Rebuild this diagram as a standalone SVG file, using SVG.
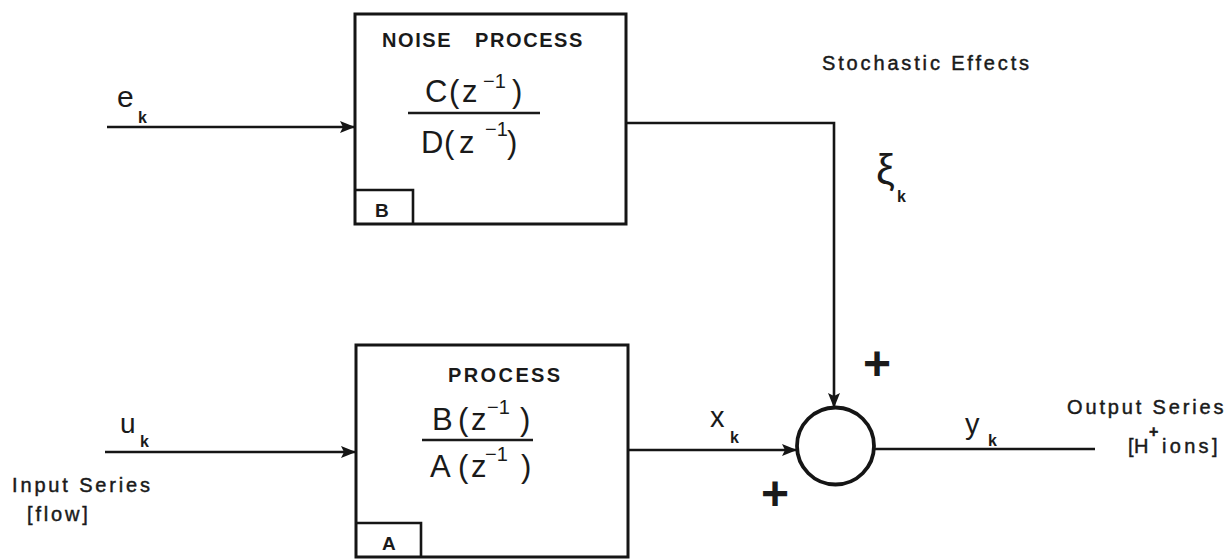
<svg xmlns="http://www.w3.org/2000/svg" width="1229" height="559" viewBox="0 0 1229 559">
<style>
.box{fill:#fff;stroke:#151515;stroke-width:3}
.tag{fill:none;stroke:#151515;stroke-width:2.6}
.conn{fill:none;stroke:#151515;stroke-width:2.6}
.frac{stroke:#1a1a1a;stroke-width:2.4}
.t{font-family:"Liberation Sans",Arial,sans-serif;fill:#1a1a1a}
.hdr{font-size:20px;font-weight:bold;letter-spacing:1.6px}
.big{font-size:31px}
.sup{font-size:20px}
.var{font-size:30px}
.sub{font-size:16px;font-weight:bold}
.lbl{font-size:20px;letter-spacing:2.85px;stroke:#1a1a1a;stroke-width:0.45}
.plus{font-size:48px;font-weight:bold;text-anchor:middle}
.id{font-size:19px;font-weight:bold}
</style>
<defs>
<marker id="arr" markerWidth="16" markerHeight="14" refX="15" refY="7" orient="auto" markerUnits="userSpaceOnUse">
<path d="M0,1 L15,7 L0,13 L3,7 z" fill="#151515"/>
</marker>
</defs>
<rect width="1229" height="559" fill="#fff"/>

<g id="connectors">
<line class="conn" x1="107" y1="127" x2="355" y2="127" marker-end="url(#arr)"/>
<line class="conn" x1="105" y1="452" x2="356" y2="452" marker-end="url(#arr)"/>
<polyline class="conn" points="626,123 834,123 834,408" marker-end="url(#arr)"/>
<line class="conn" x1="628" y1="450" x2="797" y2="450" marker-end="url(#arr)"/>
<line class="conn" x1="874" y1="449" x2="1095" y2="449"/>
</g>

<g id="node-noise">
<rect class="box" x="355" y="14" width="271" height="210"/>
<path class="tag" d="M355,190 H413 V224"/>
<text class="t id" x="375" y="217">B</text>
<text class="t hdr" y="47"><tspan x="382">NOISE</tspan> <tspan x="475">PROCESS</tspan></text>
<text class="t big" y="102"><tspan x="425">C</tspan><tspan x="449">(</tspan><tspan x="462">z</tspan><tspan class="sup" x="483" y="88">−1</tspan><tspan x="512" y="102">)</tspan></text>
<line class="frac" x1="408" y1="113" x2="540" y2="113"/>
<text class="t big" y="153"><tspan x="421">D</tspan><tspan x="444">(</tspan><tspan x="459">z</tspan><tspan class="sup" x="485" y="136">−1</tspan><tspan x="507" y="153">)</tspan></text>
</g>

<g id="node-process">
<rect class="box" x="356" y="345" width="272" height="212"/>
<path class="tag" d="M356,523 H421 V557"/>
<text class="t id" x="382" y="550">A</text>
<text class="t hdr" x="448" y="382" style="letter-spacing:2.4px">PROCESS</text>
<text class="t big" y="430"><tspan x="432">B</tspan><tspan x="458">(</tspan><tspan x="471">z</tspan><tspan class="sup" x="487" y="414">−1</tspan><tspan x="520" y="430">)</tspan></text>
<line class="frac" x1="422" y1="440" x2="533" y2="440"/>
<text class="t big" y="477"><tspan x="430">A</tspan><tspan x="458">(</tspan><tspan x="471">z</tspan><tspan class="sup" x="485" y="461">−1</tspan><tspan x="521" y="477">)</tspan></text>
</g>

<g id="node-sum">
<circle cx="835.5" cy="446" r="38.5" fill="#fff" stroke="#151515" stroke-width="3.8"/>
<text class="t plus" x="877" y="380">+</text>
<text class="t plus" x="775" y="510">+</text>
</g>

<g id="labels">
<text class="t var" x="117" y="107">e</text>
<text class="t sub" x="138" y="123">k</text>
<text class="t var" x="120" y="433" style="font-size:28px">u</text>
<text class="t sub" x="140" y="447">k</text>
<text class="t lbl" x="12" y="492">Input Series</text>
<text class="t lbl" x="27" y="521">[flow]</text>
<text class="t lbl" x="822" y="70">Stochastic Effects</text>
<text class="t" x="876" y="184" style="font-size:42px">ξ</text>
<text class="t sub" x="897" y="202">k</text>
<text class="t var" x="710" y="427" style="font-size:29px">x</text>
<text class="t sub" x="730" y="443">k</text>
<text class="t var" x="965" y="434" style="font-size:29px">y</text>
<text class="t sub" x="988" y="446">k</text>
<text class="t lbl" x="1067" y="414">Output Series</text>
<text class="t lbl" y="453"><tspan x="1128" style="letter-spacing:0.5px">[H</tspan><tspan x="1149" y="437" style="font-size:16px;font-weight:bold;letter-spacing:0">+</tspan><tspan x="1162" y="453" style="letter-spacing:3.3px">ions]</tspan></text>
</g>
</svg>
